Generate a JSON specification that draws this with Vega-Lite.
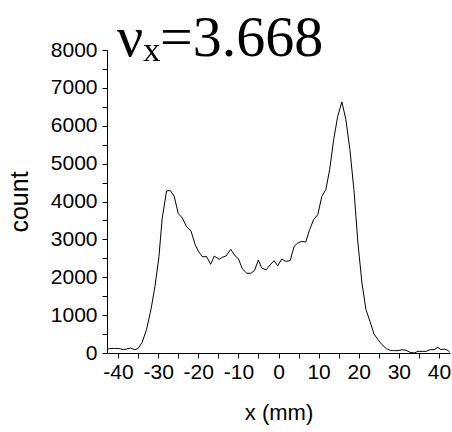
{
  "$schema": "https://vega.github.io/schema/vega-lite/v6.json",
  "width": 343,
  "height": 303,
  "autosize": {"type": "none"},
  "padding": {"left": 107, "top": 50, "right": 2, "bottom": 79},
  "background": "white",
  "config": {"view": {"stroke": null}},
  "title": {
    "text": "νₓ=3.668",
    "font": "Liberation Serif",
    "fontSize": 58,
    "fontWeight": "normal",
    "color": "black",
    "anchor": "start",
    "frame": "group",
    "baseline": "alphabetic",
    "dx": 10,
    "offset": -75
  },
  "data": {
    "values": [
      {"x": -42.7, "count": 88}, {"x": -42.1, "count": 120}, {"x": -40.9, "count": 120},
      {"x": -39.8, "count": 120}, {"x": -38.7, "count": 88}, {"x": -37.9, "count": 105},
      {"x": -36.9, "count": 130}, {"x": -35.8, "count": 88}, {"x": -35.0, "count": 120},
      {"x": -34.0, "count": 280}, {"x": -32.9, "count": 614}, {"x": -31.8, "count": 1140},
      {"x": -30.8, "count": 1754}, {"x": -29.8, "count": 2543}, {"x": -29.0, "count": 3550},
      {"x": -27.9, "count": 4280}, {"x": -27.0, "count": 4290}, {"x": -26.0, "count": 4140},
      {"x": -25.0, "count": 3683}, {"x": -24.0, "count": 3570}, {"x": -22.9, "count": 3333},
      {"x": -21.8, "count": 3220}, {"x": -20.8, "count": 2868}, {"x": -20.0, "count": 2692},
      {"x": -19.0, "count": 2543}, {"x": -17.9, "count": 2543}, {"x": -16.9, "count": 2342},
      {"x": -16.0, "count": 2560}, {"x": -14.8, "count": 2473}, {"x": -14.0, "count": 2526},
      {"x": -13.1, "count": 2560}, {"x": -11.9, "count": 2736}, {"x": -10.8, "count": 2560},
      {"x": -10.0, "count": 2490}, {"x": -9.0, "count": 2219}, {"x": -7.9, "count": 2105},
      {"x": -6.9, "count": 2105}, {"x": -6.0, "count": 2175}, {"x": -5.0, "count": 2456},
      {"x": -4.2, "count": 2245}, {"x": -3.1, "count": 2193}, {"x": -2.1, "count": 2324},
      {"x": -1.1, "count": 2438}, {"x": -0.2, "count": 2300}, {"x": 0.8, "count": 2482},
      {"x": 1.8, "count": 2420}, {"x": 2.9, "count": 2438}, {"x": 3.9, "count": 2816},
      {"x": 4.8, "count": 2904}, {"x": 5.8, "count": 2948}, {"x": 6.8, "count": 2930},
      {"x": 7.75, "count": 3256}, {"x": 8.75, "count": 3520}, {"x": 9.8, "count": 3652},
      {"x": 10.8, "count": 4136}, {"x": 11.8, "count": 4312}, {"x": 12.75, "count": 4840},
      {"x": 13.75, "count": 5632}, {"x": 14.75, "count": 6248}, {"x": 15.8, "count": 6630},
      {"x": 16.8, "count": 6160}, {"x": 17.8, "count": 5368}, {"x": 18.8, "count": 4312},
      {"x": 19.8, "count": 2904}, {"x": 20.8, "count": 1848}, {"x": 21.8, "count": 1144},
      {"x": 22.8, "count": 836}, {"x": 23.8, "count": 502}, {"x": 24.8, "count": 352},
      {"x": 25.8, "count": 220}, {"x": 26.9, "count": 114}, {"x": 27.9, "count": 70},
      {"x": 28.9, "count": 62}, {"x": 29.8, "count": 62}, {"x": 30.8, "count": 88},
      {"x": 31.8, "count": 70}, {"x": 32.8, "count": 18}, {"x": 33.8, "count": 0},
      {"x": 34.8, "count": 44}, {"x": 35.8, "count": 44}, {"x": 36.8, "count": 44},
      {"x": 37.8, "count": 88}, {"x": 38.8, "count": 88}, {"x": 39.7, "count": 150},
      {"x": 40.5, "count": 88}, {"x": 41.3, "count": 106}, {"x": 42.2, "count": 70},
      {"x": 42.7, "count": 18}
    ]
  },
  "mark": {"type": "line", "color": "black", "strokeWidth": 1, "clip": false},
  "encoding": {
    "x": {
      "field": "x",
      "type": "quantitative",
      "scale": {"domain": [-42.75, 42.75], "nice": false, "zero": false},
      "axis": {
        "title": "x (mm)",
        "values": [-40, -35, -30, -25, -20, -15, -10, -5, 0, 5, 10, 15, 20, 25, 30, 35, 40],
        "labelExpr": "datum.value % 10 === 0 ? toString(datum.value) : ''",
        "grid": false,
        "domainColor": "black",
        "tickColor": "black",
        "tickSize": 5,
        "labelFont": "Liberation Sans",
        "labelFontSize": 21,
        "labelColor": "black",
        "labelPadding": 3,
        "labelFlush": false,
        "labelOverlap": false,
        "titleFont": "Liberation Sans",
        "titleFontSize": 22,
        "titleFontWeight": "normal",
        "titleColor": "black",
        "titlePadding": 20
      }
    },
    "y": {
      "field": "count",
      "type": "quantitative",
      "scale": {"domain": [0, 8000], "nice": false},
      "axis": {
        "title": "count",
        "values": [0, 500, 1000, 1500, 2000, 2500, 3000, 3500, 4000, 4500, 5000, 5500, 6000, 6500, 7000, 7500, 8000],
        "labelExpr": "datum.value % 1000 === 0 ? toString(datum.value) : ''",
        "grid": false,
        "domainColor": "black",
        "tickColor": "black",
        "tickSize": 5,
        "labelFont": "Liberation Sans",
        "labelFontSize": 21,
        "labelColor": "black",
        "labelPadding": 5,
        "labelFlush": false,
        "labelOverlap": false,
        "titleFont": "Liberation Sans",
        "titleFontSize": 25,
        "titleFontWeight": "normal",
        "titleColor": "black",
        "titlePadding": 18
      }
    }
  }
}
